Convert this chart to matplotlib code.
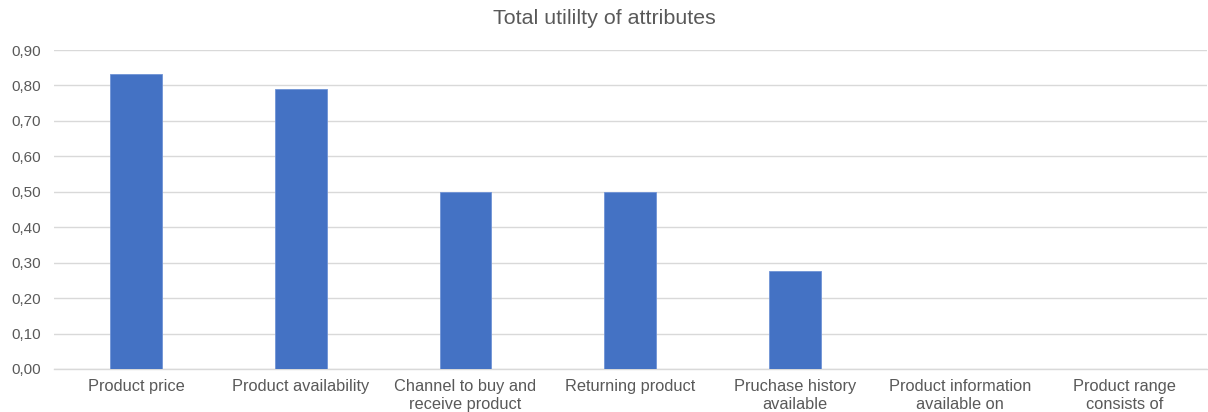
import matplotlib.pyplot as plt
from matplotlib.ticker import FuncFormatter, MultipleLocator

categories = ["Product price", "Product availability", "Channel to buy and\nreceive product",
              "Returning product", "Pruchase history\navailable",
              "Product information\navailable on", "Product range\nconsists of"]
utility = [0.832, 0.790, 0.499, 0.499, 0.276, 0.0, 0.0]

plt.rcParams['font.family'] = ['Liberation Sans', 'DejaVu Sans']
text_grey = '#595959'

fig = plt.figure(figsize=(12.08, 4.12), dpi=100)
ax = fig.add_axes([0.0443, 0.1044, 0.955, 0.7742])

x = range(len(categories))
ax.bar(x, utility, width=0.315, color='#4472C4', edgecolor='#6f93d6', linewidth=0.6, zorder=3)

ax.set_xlim(-0.5, len(categories) - 0.5)
ax.set_ylim(0, 0.9)
ax.yaxis.set_major_locator(MultipleLocator(0.1))
ax.yaxis.set_major_formatter(FuncFormatter(lambda v, _: f"{v:.2f}".replace('.', ',')))
ax.grid(axis='y', color='#d9d9d9', linewidth=1.0, zorder=0)
ax.set_xticks(list(x))
ax.set_xticklabels(categories, fontsize=11.8, color=text_grey, linespacing=1.25)
ax.tick_params(axis='x', length=0, colors=text_grey, pad=7)
ax.tick_params(axis='y', length=0, colors=text_grey, labelsize=11, pad=9)

for side in ['top', 'right', 'left']:
    ax.spines[side].set_visible(False)
ax.spines['bottom'].set_color('#d9d9d9')
ax.spines['bottom'].set_linewidth(1.0)

fig.text(0.5, 0.955, "Total utililty of attributes", ha='center', va='center',
         fontsize=15.4, color=text_grey)

fig.savefig('out.png', dpi=100)
